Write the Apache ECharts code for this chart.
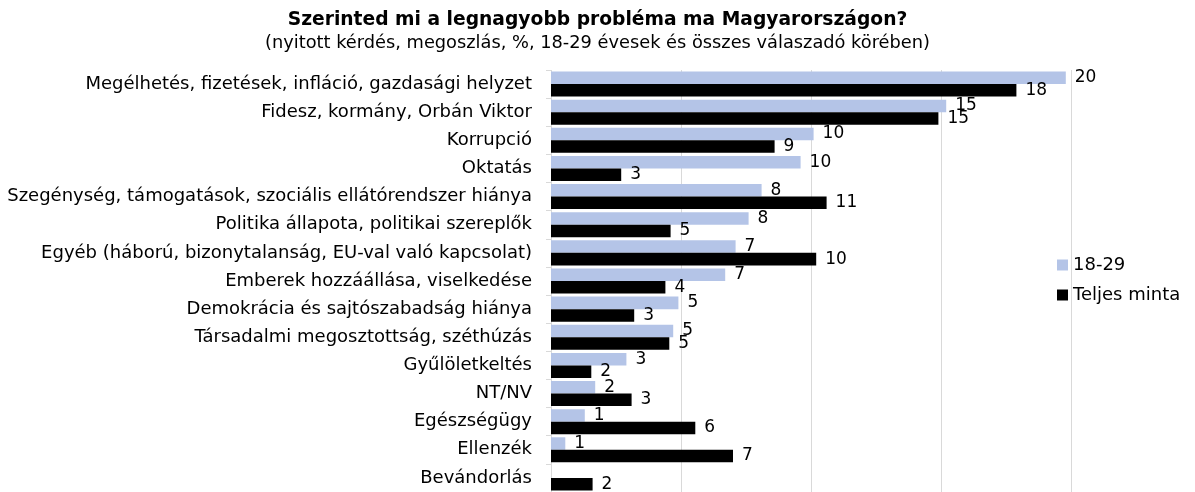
<!DOCTYPE html>
<html><head><meta charset="utf-8">
<script src="https://cdn.jsdelivr.net/npm/echarts@6/dist/echarts.min.js"></script>
<style>html,body{margin:0;padding:0;background:#fff}#c{width:1195px;height:492px}</style>
</head><body><div id="c"></div>
<script>
const categories = [
  "Megélhetés, fizetések, infláció, gazdasági helyzet",
  "Fidesz, kormány, Orbán Viktor",
  "Korrupció",
  "Oktatás",
  "Szegénység, támogatások, szociális ellátórendszer hiánya",
  "Politika állapota, politikai szereplők",
  "Egyéb (háború, bizonytalanság, EU-val való kapcsolat)",
  "Emberek hozzáállása, viselkedése",
  "Demokrácia és sajtószabadság hiánya",
  "Társadalmi megosztottság, széthúzás",
  "Gyűlöletkeltés",
  "NT/NV",
  "Egészségügy",
  "Ellenzék",
  "Bevándorlás"
];
const young = [19.8, 15.2, 10.1, 9.6, 8.1, 7.6, 7.1, 6.7, 4.9, 4.7, 2.9, 1.7, 1.3, 0.55, 0];
const total = [17.9, 14.9, 8.6, 2.7, 10.6, 4.6, 10.2, 4.4, 3.2, 4.55, 1.55, 3.1, 5.55, 7.0, 1.6];
const seriesNames = ["18-29", "Teljes minta"];
const xTicks = [0, 5, 10, 15, 20];

const FONT = "DejaVu Sans";
const chart = echarts.init(document.getElementById('c'));
const lbl = {
  show: true, position: 'right', distance: 9, color: '#000',
  fontFamily: FONT, fontSize: 17,
  formatter: p => p.value > 0 ? Math.round(p.value) : ''
};
chart.setOption({
  animation: false,
  textStyle: { fontFamily: FONT },
  title: {
    text: "Szerinted mi a legnagyobb probléma ma Magyarországon?",
    subtext: "(nyitott kérdés, megoszlás, %, 18-29 évesek és összes válaszadó körében)",
    left: 'center', top: 6, itemGap: 4,
    textStyle: { fontFamily: FONT, fontSize: 18.7, fontWeight: 'bold', color: '#000' },
    subtextStyle: { fontFamily: FONT, fontSize: 17.8, color: '#000' }
  },
  legend: {
    orient: 'vertical', left: 1052, top: 251, itemGap: 12,
    itemWidth: 11, itemHeight: 11, icon: 'rect',
    textStyle: { fontFamily: FONT, fontSize: 18, color: '#000' },
    data: seriesNames
  },
  grid: { left: 551, right: 124, top: 70, bottom: 0, containLabel: false },
  xAxis: {
    type: 'value', min: xTicks[0], max: xTicks[xTicks.length - 1], interval: 5,
    position: 'top',
    axisLabel: { show: false }, axisLine: { show: false }, axisTick: { show: false },
    splitLine: { lineStyle: { color: '#d9d9d9' } }
  },
  yAxis: {
    type: 'category', inverse: true, data: categories,
    axisLine: { show: false },
    axisTick: { show: true, length: 5, lineStyle: { color: '#d9d9d9' } },
    axisLabel: { fontFamily: FONT, fontSize: 18, color: '#000', margin: 19 }
  },
  series: [
    { name: seriesNames[0], type: 'bar', data: young, barGap: '0%', barCategoryGap: '11%',
      itemStyle: { color: '#b4c4e7' }, label: lbl },
    { name: seriesNames[1], type: 'bar', data: total, barGap: '0%', barCategoryGap: '11%',
      itemStyle: { color: '#000' }, label: lbl }
  ]
});
</script></body></html>
